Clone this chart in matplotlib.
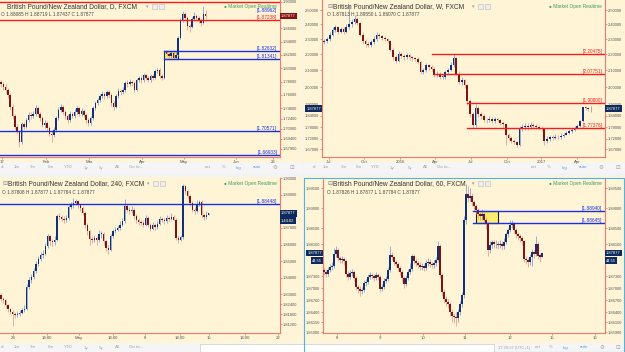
import numpy as np
import matplotlib
matplotlib.use("Agg")
import matplotlib.pyplot as plt
from matplotlib.patches import Rectangle
from matplotlib.ticker import NullLocator

plt.rcParams["font.family"] = ["Liberation Sans", "DejaVu Sans"]

W, H = 625, 352
CREAM = "#fff5d6"
UP, DOWN = "#10307a", "#7d1414"
UP_WICK, DOWN_WICK = "#6d8ed0", "#e0908c"
FRAME = "#f07a72"
RED, BLUE = "#ff1a1a", "#1a2ee6"
TAG_NAVY, TAG_RED = "#0f2a5c", "#8a1010"

# ---- daily (top left) ----
d1_open0 = 1.780
d1_closes = [1.776, 1.772, 1.768, 1.760, 1.742, 1.728, 1.712, 1.705, 1.690, 1.716,
             1.712, 1.722, 1.730, 1.728, 1.732, 1.740, 1.732, 1.725, 1.715, 1.718,
             1.710, 1.702, 1.700, 1.708, 1.725, 1.738, 1.742, 1.735, 1.728, 1.722,
             1.732, 1.728, 1.735, 1.740, 1.732, 1.736, 1.730, 1.722, 1.718, 1.725,
             1.740, 1.748, 1.753, 1.758, 1.762, 1.758, 1.764, 1.760, 1.748, 1.742,
             1.758, 1.766, 1.764, 1.768, 1.778, 1.776, 1.780, 1.778, 1.768, 1.782,
             1.785, 1.782, 1.790, 1.786, 1.782, 1.788, 1.786, 1.796, 1.798, 1.788,
             1.785, 1.826, 1.822, 1.818, 1.823, 1.816, 1.820, 1.846, 1.872, 1.882,
             1.876, 1.864, 1.862, 1.874, 1.878, 1.876, 1.872, 1.868, 1.8809, 1.87877]
d1_highs = [1.783, 1.779, 1.776, 1.771, 1.763, 1.746, 1.731, 1.716, 1.708, 1.719,
            1.720, 1.726, 1.734, 1.735, 1.736, 1.745, 1.743, 1.735, 1.728, 1.722,
            1.721, 1.713, 1.706, 1.712, 1.728, 1.742, 1.747, 1.745, 1.738, 1.731,
            1.736, 1.735, 1.739, 1.744, 1.742, 1.740, 1.739, 1.733, 1.725, 1.728,
            1.743, 1.751, 1.756, 1.762, 1.766, 1.765, 1.768, 1.767, 1.763, 1.751,
            1.761, 1.770, 1.769, 1.772, 1.781, 1.782, 1.784, 1.783, 1.781, 1.785,
            1.789, 1.788, 1.793, 1.792, 1.789, 1.791, 1.792, 1.799, 1.801, 1.800,
            1.791, 1.828, 1.828, 1.825, 1.826, 1.826, 1.824, 1.849, 1.875, 1.886,
            1.885, 1.878, 1.867, 1.877, 1.884, 1.881, 1.879, 1.875, 1.893, 1.8872]
d1_lows = [1.772, 1.768, 1.763, 1.756, 1.738, 1.724, 1.709, 1.702, 1.6825, 1.687,
           1.709, 1.710, 1.719, 1.724, 1.725, 1.729, 1.728, 1.721, 1.712, 1.711,
           1.706, 1.698, 1.690, 1.697, 1.705, 1.722, 1.735, 1.731, 1.724, 1.718,
           1.720, 1.725, 1.726, 1.732, 1.729, 1.729, 1.727, 1.718, 1.713, 1.715,
           1.723, 1.737, 1.745, 1.750, 1.755, 1.754, 1.755, 1.756, 1.744, 1.738,
           1.740, 1.755, 1.760, 1.761, 1.765, 1.772, 1.773, 1.774, 1.765, 1.766,
           1.779, 1.778, 1.780, 1.783, 1.779, 1.780, 1.783, 1.784, 1.793, 1.785,
           1.782, 1.784, 1.818, 1.815, 1.815, 1.814, 1.814, 1.818, 1.844, 1.869,
           1.872, 1.858, 1.855, 1.860, 1.871, 1.872, 1.868, 1.863, 1.866, 1.8744]
d1_ticks = [1.90, 1.86, 1.84, 1.82, 1.80, 1.78, 1.76, 1.74, 1.724, 1.709, 1.694, 1.679]
d1_dates = ["17", "Feb", "Mar", "Apr", "May", "Jun", "26"]

# ---- weekly (top right) ----
w_open0 = 2.280
w_closes = [2.290, 2.300, 2.330, 2.360, 2.380, 2.350, 2.370, 2.350, 2.380, 2.400,
            2.420, 2.440, 2.410, 2.330, 2.290, 2.270, 2.260, 2.280, 2.300, 2.330,
            2.320, 2.310, 2.300, 2.290, 2.230, 2.180, 2.160, 2.200, 2.190, 2.180,
            2.195, 2.180, 2.175, 2.170, 2.150, 2.090, 2.100, 2.130, 2.120, 2.110,
            2.070, 2.080, 2.060, 2.060, 2.090, 2.100, 2.130, 2.175, 2.080, 2.030,
            2.040, 2.010, 1.920, 1.850, 1.790, 1.880, 1.850, 1.840, 1.820, 1.815,
            1.825, 1.810, 1.822, 1.818, 1.800, 1.795, 1.740, 1.725, 1.712, 1.705,
            1.690, 1.770, 1.780, 1.785, 1.780, 1.790, 1.785, 1.780, 1.775, 1.770,
            1.710, 1.720, 1.730, 1.725, 1.732, 1.728, 1.735, 1.742, 1.750, 1.758,
            1.765, 1.775, 1.785, 1.810, 1.885, 1.882, 1.876, 1.87877]
w_highs = [2.300, 2.315, 2.345, 2.380, 2.395, 2.390, 2.385, 2.380, 2.400, 2.540,
           2.440, 2.470, 2.455, 2.420, 2.345, 2.300, 2.285, 2.295, 2.320, 2.345,
           2.340, 2.330, 2.320, 2.310, 2.295, 2.240, 2.195, 2.220, 2.215, 2.205,
           2.210, 2.200, 2.190, 2.185, 2.180, 2.160, 2.115, 2.145, 2.140, 2.130,
           2.120, 2.095, 2.090, 2.075, 2.100, 2.115, 2.150, 2.205, 2.180, 2.095,
           2.060, 2.050, 2.020, 1.930, 1.860, 1.905, 1.895, 1.860, 1.850, 1.830,
           1.840, 1.835, 1.835, 1.830, 1.825, 1.810, 1.800, 1.750, 1.735, 1.720,
           1.712, 1.785, 1.795, 1.800, 1.800, 1.805, 1.800, 1.795, 1.790, 1.785,
           1.775, 1.735, 1.740, 1.740, 1.745, 1.742, 1.748, 1.752, 1.760, 1.768,
           1.775, 1.785, 1.798, 1.820, 1.890, 1.895, 1.890, 1.8955]
w_lows = [2.265, 2.275, 2.290, 2.320, 2.345, 2.335, 2.340, 2.335, 2.340, 2.370,
          2.385, 2.405, 2.395, 2.320, 2.270, 2.250, 2.245, 2.250, 2.270, 2.290,
          2.305, 2.295, 2.285, 2.275, 2.220, 2.165, 2.145, 2.150, 2.175, 2.165,
          2.170, 2.165, 2.160, 2.155, 2.140, 2.080, 2.080, 2.090, 2.105, 2.095,
          2.060, 2.060, 2.045, 2.045, 2.050, 2.080, 2.095, 2.120, 2.070, 2.020,
          2.010, 1.995, 1.900, 1.835, 1.775, 1.780, 1.835, 1.825, 1.805, 1.800,
          1.805, 1.800, 1.800, 1.805, 1.790, 1.780, 1.690, 1.715, 1.700, 1.695,
          1.680, 1.685, 1.760, 1.765, 1.765, 1.770, 1.770, 1.770, 1.765, 1.760,
          1.690, 1.700, 1.710, 1.715, 1.718, 1.720, 1.722, 1.730, 1.738, 1.745,
          1.752, 1.760, 1.770, 1.780, 1.805, 1.870, 1.865, 1.8607]
w_ticks = [2.5, 2.4, 2.3, 2.2, 2.1, 2.0, 1.9, 1.84, 1.78, 1.72, 1.67]
w_dates = ["Jul", "Oct", "2016", "Apr", "Jul", "Oct", "2017", "Apr"]

# ---- 240 min (bottom left) ----
h4_open0 = 1.8295
h4_closes = [1.8275, 1.8265, 1.8235, 1.8210, 1.8195, 1.8180, 1.8175, 1.8185, 1.8190, 1.8205,
             1.8215, 1.8345, 1.8385, 1.8405, 1.8440, 1.8480, 1.8510, 1.8535, 1.8545, 1.8590,
             1.8650, 1.8620, 1.8615, 1.8630, 1.8770, 1.8765, 1.8755, 1.8745, 1.8760, 1.8825,
             1.8835, 1.8850, 1.8860, 1.8835, 1.8820, 1.8790, 1.8720, 1.8680, 1.8635, 1.8630,
             1.8640, 1.8625, 1.8665, 1.8665, 1.8620, 1.8580, 1.8570, 1.8650, 1.8680, 1.8690,
             1.8700, 1.8720, 1.8740, 1.8830, 1.8810, 1.8800, 1.8810, 1.8770, 1.8745, 1.8735,
             1.8730, 1.8720, 1.8760, 1.8720, 1.8695, 1.8720, 1.8705, 1.8725, 1.8755, 1.8750,
             1.8740, 1.8760, 1.8755, 1.8765, 1.8750, 1.8640, 1.8630, 1.8645, 1.8950, 1.8920,
             1.8890, 1.8850, 1.8810, 1.8800, 1.8840, 1.8855, 1.8780, 1.8765, 1.8775, 1.87877]
h4_highs = [1.8310, 1.8285, 1.8275, 1.8245, 1.8220, 1.8205, 1.8195, 1.8200, 1.8205, 1.8220,
            1.8235, 1.8360, 1.8405, 1.8420, 1.8460, 1.8500, 1.8530, 1.8555, 1.8565, 1.8610,
            1.8665, 1.8660, 1.8635, 1.8650, 1.8785, 1.8790, 1.8780, 1.8770, 1.8775, 1.8840,
            1.8855, 1.8880, 1.8875, 1.8870, 1.8845, 1.8830, 1.8800, 1.8730, 1.8690, 1.8650,
            1.8660, 1.8650, 1.8690, 1.8680, 1.8675, 1.8630, 1.8595, 1.8665, 1.8695, 1.8705,
            1.8715, 1.8740, 1.8760, 1.8875, 1.8845, 1.8825, 1.8830, 1.8820, 1.8785, 1.8760,
            1.8750, 1.8745, 1.8775, 1.8770, 1.8730, 1.8735, 1.8730, 1.8740, 1.8770, 1.8765,
            1.8760, 1.8780, 1.8770, 1.8790, 1.8775, 1.8760, 1.8655, 1.8660, 1.8965, 1.8960,
            1.8930, 1.8900, 1.8860, 1.8825, 1.8865, 1.8870, 1.8865, 1.8790, 1.8800, 1.87877]
h4_lows = [1.8260, 1.8250, 1.8220, 1.8195, 1.8180, 1.8110, 1.8160, 1.8165, 1.8170, 1.8180,
           1.8195, 1.8205, 1.8330, 1.8370, 1.8390, 1.8430, 1.8470, 1.8500, 1.8520, 1.8535,
           1.8580, 1.8600, 1.8590, 1.8600, 1.8620, 1.8745, 1.8740, 1.8730, 1.8735, 1.8750,
           1.8815, 1.8820, 1.8835, 1.8820, 1.8800, 1.8775, 1.8700, 1.8660, 1.8600, 1.8610,
           1.8615, 1.8600, 1.8615, 1.8640, 1.8600, 1.8560, 1.8545, 1.8560, 1.8640, 1.8670,
           1.8680, 1.8690, 1.8710, 1.8730, 1.8795, 1.8785, 1.8790, 1.8755, 1.8730, 1.8720,
           1.8715, 1.8705, 1.8710, 1.8705, 1.8680, 1.8685, 1.8690, 1.8695, 1.8715, 1.8735,
           1.8725, 1.8730, 1.8740, 1.8745, 1.8740, 1.8625, 1.8610, 1.8620, 1.8635, 1.8905,
           1.8875, 1.8830, 1.8795, 1.8785, 1.8790, 1.8830, 1.8760, 1.8750, 1.8755, 1.87784]
h4_ticks = [1.90, 1.89, 1.88, 1.87, 1.86, 1.85, 1.84, 1.83, 1.824, 1.818, 1.812]
h4_dates = ["24", "14:00", "May", "14:00", "8", "14:00", "15", "14:00", "22"]

# ---- 60 min (bottom right) ----
h1_open0 = 1.8745
h1_closes = [1.8740, 1.8735, 1.8745, 1.8752, 1.8755, 1.8785, 1.8795, 1.8775, 1.8770, 1.8772,
             1.8768, 1.8735, 1.8728, 1.8738, 1.8740, 1.8725, 1.8702, 1.8698, 1.8692, 1.8695,
             1.8712, 1.8715, 1.8728, 1.8732, 1.8730, 1.8726, 1.8732, 1.8728, 1.8698, 1.8702,
             1.8718, 1.8722, 1.8745, 1.8782, 1.8778, 1.8765, 1.8760, 1.8750, 1.8740, 1.8725,
             1.8710, 1.8725, 1.8740, 1.8748, 1.8780, 1.8768, 1.8762, 1.8758, 1.8752, 1.8755,
             1.8750, 1.8762, 1.8766, 1.8760, 1.8758, 1.8762, 1.8770, 1.8805, 1.8732, 1.8690,
             1.8672, 1.8665, 1.8660, 1.8640, 1.8630, 1.8628, 1.8625, 1.8640, 1.8660, 1.8682,
             1.8870, 1.8935, 1.8925, 1.8930, 1.8915, 1.8905, 1.8895, 1.8885, 1.8880, 1.8885,
             1.8870, 1.8860, 1.8795, 1.8808, 1.8815, 1.8810, 1.8812, 1.8808, 1.8812, 1.8806,
             1.8815, 1.8835, 1.8845, 1.8858, 1.8862, 1.8845, 1.8835, 1.8830, 1.8825, 1.8818,
             1.8772, 1.8770, 1.8765, 1.8778, 1.8790, 1.8785, 1.8810, 1.8782, 1.8778, 1.87877]
h1_highs = [1.8752, 1.8748, 1.8752, 1.8760, 1.8765, 1.8800, 1.8805, 1.8800, 1.8782, 1.8780,
            1.8778, 1.8772, 1.8742, 1.8745, 1.8748, 1.8745, 1.8730, 1.8708, 1.8705, 1.8702,
            1.8720, 1.8722, 1.8735, 1.8740, 1.8738, 1.8736, 1.8740, 1.8738, 1.8732, 1.8710,
            1.8725, 1.8730, 1.8752, 1.8805, 1.8790, 1.8782, 1.8770, 1.8765, 1.8755, 1.8745,
            1.8730, 1.8732, 1.8748, 1.8762, 1.8785, 1.8786, 1.8775, 1.8768, 1.8765, 1.8762,
            1.8760, 1.8770, 1.8775, 1.8772, 1.8766, 1.8770, 1.8778, 1.8818, 1.8810, 1.8738,
            1.8698, 1.8680, 1.8672, 1.8665, 1.8648, 1.8638, 1.8640, 1.8648, 1.8668, 1.8690,
            1.8880, 1.8960, 1.8955, 1.8952, 1.8938, 1.8922, 1.8912, 1.8902, 1.8892, 1.8898,
            1.8892, 1.8878, 1.8865, 1.8818, 1.8822, 1.8822, 1.8820, 1.8818, 1.8822, 1.8818,
            1.8825, 1.8842, 1.8852, 1.8872, 1.8870, 1.8866, 1.8850, 1.8842, 1.8836, 1.8830,
            1.8822, 1.8780, 1.8775, 1.8785, 1.8798, 1.8796, 1.8830, 1.8815, 1.8788, 1.87877]
h1_lows = [1.8732, 1.8728, 1.8730, 1.8740, 1.8746, 1.8750, 1.8778, 1.8768, 1.8762, 1.8762,
           1.8758, 1.8728, 1.8720, 1.8722, 1.8730, 1.8718, 1.8695, 1.8688, 1.8680, 1.8685,
           1.8690, 1.8705, 1.8710, 1.8722, 1.8722, 1.8718, 1.8720, 1.8720, 1.8690, 1.8692,
           1.8698, 1.8712, 1.8718, 1.8740, 1.8770, 1.8758, 1.8752, 1.8742, 1.8732, 1.8715,
           1.8700, 1.8705, 1.8720, 1.8735, 1.8742, 1.8760, 1.8755, 1.8750, 1.8745, 1.8745,
           1.8742, 1.8745, 1.8755, 1.8752, 1.8750, 1.8750, 1.8755, 1.8765, 1.8725, 1.8680,
           1.8662, 1.8655, 1.8650, 1.8630, 1.8615, 1.8612, 1.8605, 1.8615, 1.8632, 1.8652,
           1.8675, 1.8862, 1.8915, 1.8918, 1.8905, 1.8895, 1.8885, 1.8875, 1.8870, 1.8872,
           1.8860, 1.8848, 1.8780, 1.8788, 1.8800, 1.8800, 1.8800, 1.8798, 1.8802, 1.8795,
           1.8798, 1.8810, 1.8828, 1.8840, 1.8850, 1.8838, 1.8826, 1.8820, 1.8815, 1.8808,
           1.8765, 1.8760, 1.8752, 1.8758, 1.8755, 1.8775, 1.8780, 1.8772, 1.8765, 1.87784]
h1_ticks = [1.895, 1.89, 1.885, 1.881, 1.873, 1.87, 1.867, 1.864, 1.8615, 1.859]
h1_dates = ["8", "9", "10", "11", "12", "15", "16"]

LAST = 1.87877
TOOLBAR_LEFT = ["d", "1m", "3m", "6m", "YTD", "1y", "5y", "All"]
TOOLBAR_RIGHT = ["ext", "%", "log", "auto"]
GEAR, FULL = "\u2699", "\u22a1"


fig = plt.figure(figsize=(W / 100, H / 100), dpi=100, facecolor="#f3f3f3")


def fx(x):
    return x / W


def fy(y):
    return 1 - y / H


def frect(x, y, w, h, color, z=-5, ec="none", lw=0.0):
    fig.patches.append(Rectangle((fx(x), fy(y + h)), w / W, h / H, transform=fig.transFigure,
                                 facecolor=color, edgecolor=ec, lw=lw, zorder=z))


def ftext(x, y, s, size=3.4, color="#555555", ha="left", **kw):
    fig.text(fx(x), fy(y), s, fontsize=size, color=color, ha=ha, va="center", **kw)


def candles(ax, open0, closes, highs, lows, min_body):
    c = np.array(closes)
    o = np.r_[open0, c[:-1]]
    x = np.arange(len(c))
    up = c >= o
    ax.vlines(x, lows, highs, colors=np.where(up, UP_WICK, DOWN_WICK), lw=0.5, zorder=3)
    ax.bar(x, np.maximum(np.abs(c - o), min_body), 0.62, np.minimum(o, c),
           color=np.where(up, UP, DOWN), lw=0, zorder=4)


def panel(left, top, right, bottom, first_px, step, ylim, yticks, xt_px, xt_labels,
          left_labels=False, log=False):
    ax = fig.add_axes([fx(left), fy(bottom), (right - left) / W, (bottom - top) / H])
    ax.set_facecolor(CREAM)
    ax.set_xlim((left - first_px) / step, (right - first_px) / step)
    if log:
        ax.set_yscale("log")
    ax.set_ylim(*ylim)
    ax.yaxis.tick_right()
    ax.set_yticks(yticks)
    ax.set_yticklabels([f"{v:.5f}" for v in yticks])
    ax.yaxis.set_minor_locator(NullLocator())
    ax.set_xticks([(p - first_px) / step for p in xt_px])
    ax.set_xticklabels(xt_labels)
    ax.tick_params(axis="y", labelsize=2.9, labelcolor="#555555", color=FRAME,
                   length=1.5, width=0.6, pad=0.8)
    ax.tick_params(axis="x", labelsize=3.1, labelcolor="#555555", color=FRAME,
                   length=1.5, width=0.6, pad=1.0)
    if left_labels:
        ax.tick_params(axis="y", left=True, labelleft=True)
    ax.spines["top"].set_visible(False)
    ax.spines["left"].set_visible(left_labels)
    for s in ax.spines.values():
        s.set_color(FRAME)
        s.set_linewidth(0.8)
    ax.frac = lambda px: (px - left) / (right - left)
    ax.data_x = lambda px: (px - first_px) / step
    return ax


def level(ax, y, start_px, color, label=None):
    ax.axhline(y, xmin=ax.frac(start_px), xmax=1, color=color, lw=1.0, zorder=5)
    if label:
        ax.text(0.99, y, label, transform=ax.get_yaxis_transform(), ha="right", va="bottom",
                fontsize=3.4, color=color, zorder=6)


def tag(ax, y, text, color, side="right"):
    x, ha = (1.004, "left") if side == "right" else (-0.004, "right")
    ax.text(x, y, text, transform=ax.get_yaxis_transform(), ha=ha, va="center",
            fontsize=2.9, color="white", clip_on=False, zorder=10,
            bbox=dict(boxstyle="square,pad=0.3", fc=color, ec="none"))


def header(x, y, name, ohlc, icon=True):
    if icon:
        ftext(x - 6, y, "\u229f", size=4.5, color="#888888", family="DejaVu Sans")
    ftext(x, y, name, size=4.8, color="#333333")
    ftext(x - 6, y + 8.5, ohlc, size=3.4, color="#444444")
    ftext(x + 139, y, "\u25be", size=3.5, color="#999999", family="DejaVu Sans")
    frect(x + 145, y - 2.8, 5, 5, "#eeeeee", z=5, ec="#bbbbbb", lw=0.4)
    frect(x + 152, y - 2.8, 5, 5, "#eeeeee", z=5, ec="#bbbbbb", lw=0.4)


def market(x_right, y):
    ftext(x_right, y, "\u25cf Market Open Realtime", size=3.4, color="#3d9a5c", ha="right")


def toolbar(y, left_pos, right_pos):
    for s, px in zip(TOOLBAR_LEFT, left_pos):
        ftext(px, y, s, size=3.2, color="#a0a0a0", ha="center")
    ftext(left_pos[-1] + 19, y, "Go to...", size=3.2, color="#a0a0a0", ha="center")
    if right_pos:
        for s, px in zip(TOOLBAR_RIGHT, right_pos):
            col = "#6a9ad8" if s in ("log", "auto") else "#a0a0a0"
            ftext(px, y, s, size=3.2, color=col, ha="center")
        ftext(right_pos[-1] + 18, y, GEAR, size=4, color="#a0a0a0", ha="center",
              family="DejaVu Sans")
        ftext(right_pos[-1] + 35, y, FULL, size=4, color="#a0a0a0", ha="center",
              family="DejaVu Sans")


# backgrounds
frect(0, 0, 303, 162, CREAM)
frect(304, 0, 321, 162, CREAM)
frect(0, 177, 303, 166, CREAM)
frect(304, 177, 321, 166, CREAM)
frect(0, 162, 303, 11, "#f5f5f5")
frect(304, 162, 321, 11, "#f5f5f5")
frect(0, 343, 303, 9, "#f5f5f5")
frect(304, 343, 321, 9, "#f5f5f5")

# ---------------- daily ----------------
ax1 = panel(0, 0, 280, 157, 1, 2.3, (1.667, 1.9024), d1_ticks,
            [2, 46, 89, 142, 184, 236, 273], d1_dates)
candles(ax1, d1_open0, d1_closes, d1_highs, d1_lows, 0.0008)
ax1.add_patch(Rectangle((ax1.data_x(164), 1.81341), ax1.data_x(178) - ax1.data_x(164),
                        1.82632 - 1.81341, fc="#f9ec6e", ec="#1a1a1a", lw=0.8, zorder=2))
level(ax1, 1.9000, 0, RED)
level(ax1, 1.8724, 0, RED, "[1.87238]")
ax1.text(0.99, 1.8835, "[1.88962]", transform=ax1.get_yaxis_transform(), ha="right",
         va="bottom", fontsize=3.4, color=BLUE, zorder=6)
level(ax1, 1.82632, 164, BLUE, "[1.82632]")
level(ax1, 1.81341, 164, BLUE, "[1.81341]")
level(ax1, 1.70571, 0, BLUE, "[1.70571]")
level(ax1, 1.66933, 0, BLUE, "[1.66933]")
tag(ax1, LAST, "1.87877", TAG_RED)
header(7, 6.5, "British Pound/New Zealand Dollar, D, FXCM",
       "O 1.88085 H 1.88719 L 1.87437 C 1.87877", icon=False)
market(277, 6.5)

# ---------------- weekly ----------------
ax2 = panel(322, 0, 605, 157, 324.3, 2.75, (1.632, 2.577), w_ticks,
            [329, 364, 400, 435, 471, 507, 541, 577], w_dates, left_labels=True, log=True)
candles(ax2, w_open0, w_closes, w_highs, w_lows, 0.003)
level(ax2, 2.20475, 432, RED, "[2.20475]")
level(ax2, 2.07751, 434, RED, "[2.07751]")
level(ax2, 1.90800, 467, RED, "[1.90800]")
level(ax2, 1.77376, 467, RED, "[1.77376]")
ax2.plot([ax2.frac(517), 1], [1.6755, 1.7085], transform=ax2.get_xaxis_transform(),
         color=BLUE, lw=1.0, zorder=5)
tag(ax2, LAST, "1.87877", TAG_NAVY)
tag(ax2, LAST, "1.87877", TAG_NAVY, side="left")
header(333, 6.5, "British Pound/New Zealand Dollar, W, FXCM",
       "O 1.87813 H 1.89550 L 1.86070 C 1.87877")
market(602, 6.5)

# ---------------- 240 ----------------
ax3 = panel(0, 178, 280, 333, 1, 2.333, (1.8068, 1.8998), h4_ticks,
            [13, 47, 79, 113, 145, 180, 209, 245, 278], h4_dates)
candles(ax3, h4_open0, h4_closes, h4_highs, h4_lows, 0.0003)
level(ax3, 1.8846, 0, BLUE, "[1.88448]")
ax3.plot([ax3.frac(105), 1], [1.8544, 1.8696], transform=ax3.get_xaxis_transform(),
         color=BLUE, lw=1.0, zorder=5)
tag(ax3, LAST, "1.87877", TAG_NAVY)
tag(ax3, 1.8744, "1:44:02", TAG_NAVY)
header(8, 183.5, "British Pound/New Zealand Dollar, 240, FXCM",
       "O 1.87808 H 1.87877 L 1.87784 C 1.87877")
market(277, 183.5)

# ---------------- 60 ----------------
ax4 = panel(323, 178, 605, 333, 324, 2.0, (1.8588, 1.8976), h1_ticks,
            [337, 380, 423, 465, 510, 552, 595], h1_dates, left_labels=True)
candles(ax4, h1_open0, h1_closes, h1_highs, h1_lows, 0.00012)
ax4.add_patch(Rectangle((ax4.data_x(476), 1.88645), ax4.data_x(498) - ax4.data_x(476),
                        1.8894 - 1.88645, fc="#f9ec6e", ec="#1a1a1a", lw=0.8, zorder=2))
level(ax4, 1.8894, 473, BLUE, "[1.88940]")
level(ax4, 1.88645, 473, BLUE, "[1.88645]")
tag(ax4, LAST, "1.87877", TAG_NAVY)
tag(ax4, 1.8769, "44:55", TAG_NAVY)
tag(ax4, LAST, "1.87877", TAG_NAVY, side="left")
tag(ax4, 1.8769, "44:55", TAG_NAVY, side="left")
header(333, 183.5, "British Pound/New Zealand Dollar, 60, FXCM",
       "O 1.87826 H 1.87877 L 1.87784 C 1.87877")
market(602, 183.5)

# toolbars
toolbar(167.5, [2, 17, 33, 51, 68, 86, 101, 117], [208, 224, 239, 257])
toolbar(167.5, [314, 326, 344, 359, 375, 392, 410, 425], [534, 549, 565, 583])
toolbar(347.5, [2, 17, 33, 51, 68, 86, 101, 117], None)
ftext(514, 347.5, "17:29:37 (UTC+1)", size=2.9, color="#a0a0a0", ha="center")
for s, px in zip(TOOLBAR_RIGHT, [538, 551, 566, 584]):
    ftext(px, 347.5, s, size=3.2, color="#6a9ad8" if s in ("log", "auto") else "#a0a0a0",
          ha="center")
ftext(602, 347.5, GEAR, size=4, color="#a0a0a0", ha="center", family="DejaVu Sans")
ftext(618, 347.5, FULL, size=4, color="#a0a0a0", ha="center", family="DejaVu Sans")

# drawing tools popup
frect(200, 344, 294, 9, "white", z=6, ec="#cccccc", lw=0.5)
for i, g in enumerate("\u2191\u25ad\u2191\u2199\u2502\u2191\u25a2\u2196\u25ad\u2191\u25c7\u2295\u2195T\u2191\u2193"):
    ftext(216 + i * 17, 349, g, size=4, color="#777777", ha="center", family="DejaVu Sans")

# active panel border
frect(303.5, 177.5, 321, 174, "none", z=7, ec="#52b4d8", lw=0.8)

fig.savefig("out.png", dpi=100, facecolor=fig.get_facecolor())
